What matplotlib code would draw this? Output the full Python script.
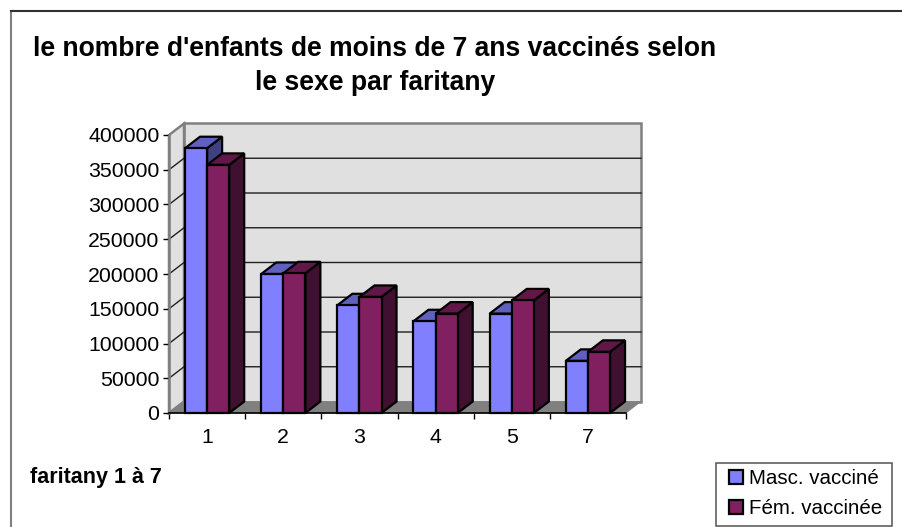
import matplotlib
matplotlib.use("Agg")
import matplotlib.pyplot as plt
from matplotlib.patches import Polygon, Rectangle

plt.rcParams['font.family'] = ['Liberation Sans', 'DejaVu Sans']

# data
categories = ["1", "2", "3", "4", "5", "7"]
masc = [381000, 200000, 155000, 132000, 143000, 75000]
fem = [357000, 201000, 167000, 143000, 162000, 88000]
y_ticks = [0, 50000, 100000, 150000, 200000, 250000, 300000, 350000, 400000]
series_names = ["Masc. vacciné", "Fém. vaccinée"]

W, H = 902, 527
DX = 15 / 76.0      # depth of the 3d effect, data units
DY = 11.5 / 278 * 400000
BAR_W = 0.29
LW = 1.6

MASC_COLS = ("#8080ff", "#6060c0", "#404080")
FEM_COLS = ("#802060", "#601848", "#401030")


def fx(px):
    return px / W


def fy(px):
    return 1 - px / H


def draw_bar(ax, left, value, cols, z):
    right = left + BAR_W
    side = [(right, 0), (right + DX, DY), (right + DX, value + DY), (right, value)]
    top = [(left, value), (left + DX, value + DY), (right + DX, value + DY), (right, value)]
    ax.add_patch(Polygon(side, fc=cols[2], ec="black", lw=LW, clip_on=False, zorder=z))
    ax.add_patch(Polygon(top, fc=cols[1], ec="black", lw=LW, clip_on=False, zorder=z))
    return ax.bar(left, value, BAR_W, align="edge", color=cols[0], edgecolor="black",
                  linewidth=LW, clip_on=False, zorder=z + 0.5)


fig = plt.figure(figsize=(W / 100, H / 100), dpi=100, facecolor="white")
ax = fig.add_axes([fx(169), fy(413), 457 / W, 278 / H])
ax.set_xlim(0, len(categories))
ax.set_ylim(0, 400000)
ax.patch.set_visible(False)

n = len(categories)
top_y = y_ticks[-1]

# walls and floor
ax.add_patch(Polygon([(DX, DY), (n + DX, DY), (n + DX, top_y + DY), (DX, top_y + DY)],
                     fc="#e0e0e0", ec="#808080", lw=1.8, clip_on=False, zorder=1))
ax.add_patch(Polygon([(0, 0), (DX, DY), (DX, top_y + DY), (0, top_y)],
                     fc="#e0e0e0", ec="#808080", lw=1.8, clip_on=False, zorder=1))
ax.add_patch(Polygon([(0, 0), (n, 0), (n + DX, DY), (DX, DY)],
                     fc="#808080", ec="#808080", lw=0.5, clip_on=False, zorder=1.5))

for v in y_ticks[1:-1]:
    ax.plot([0, DX, n + DX], [v, v + DY, v + DY], color="#202020", lw=1.0,
            clip_on=False, zorder=2)

z = 3
for i in range(n):
    h1 = draw_bar(ax, i + 0.21, masc[i], MASC_COLS, z)
    h2 = draw_bar(ax, i + 0.5, fem[i], FEM_COLS, z + 1)
    z += 2

# axes
for s in ("top", "right"):
    ax.spines[s].set_visible(False)
ax.spines["left"].set_color("#808080")
ax.spines["left"].set_linewidth(1.8)
ax.spines["left"].set_zorder(2)
ax.spines["bottom"].set_color("black")
ax.spines["bottom"].set_linewidth(1.2)
ax.spines["bottom"].set_zorder(20)

ax.set_yticks(y_ticks)
ax.set_yticklabels([str(v) for v in y_ticks])
ax.tick_params(axis="y", length=4.5, width=1.0, pad=2.5, labelsize=15.3)
ax.set_xticks(range(n + 1))
ax.set_xticklabels([])
ax.set_xticks([i + 0.5 for i in range(n)], minor=True)
ax.set_xticklabels(categories, minor=True)
ax.tick_params(axis="x", which="major", length=4.5, width=1.0)
ax.tick_params(axis="x", which="minor", length=0, pad=10.5, labelsize=15.3)

# titles
fig.text(fx(375), fy(56), "le nombre d'enfants de moins de 7 ans vaccinés selon",
         ha="center", va="baseline", fontsize=19.1, fontweight="bold")
fig.text(fx(375), fy(89.5), "le sexe par faritany",
         ha="center", va="baseline", fontsize=19.1, fontweight="bold")
fig.text(fx(30), fy(477.5), "faritany 1 à 7", ha="left", va="center",
         fontsize=15.5, fontweight="bold")

# outer frame
fig.add_artist(plt.Line2D([fx(11), fx(11)], [fy(11), 0], color="#808080", lw=1.5))
fig.add_artist(plt.Line2D([fx(11), 1], [fy(11), fy(11)], color="#303030", lw=1.5))

# legend, box drawn separately so the padding can differ per side
fig.add_artist(Rectangle((fx(716), fy(526)), 176 / W, 63 / H, transform=fig.transFigure,
                         fc="white", ec="#606060", lw=1.2))
leg = fig.legend([h1, h2], series_names, loc="upper left",
                 bbox_to_anchor=(fx(729), fy(469.5)), bbox_transform=fig.transFigure,
                 fontsize=14.8, frameon=False, borderaxespad=0, borderpad=0, labelspacing=0.5,
                 handlelength=0.68, handleheight=0.68, handletextpad=0.3)

fig.savefig("out.png", dpi=100)
